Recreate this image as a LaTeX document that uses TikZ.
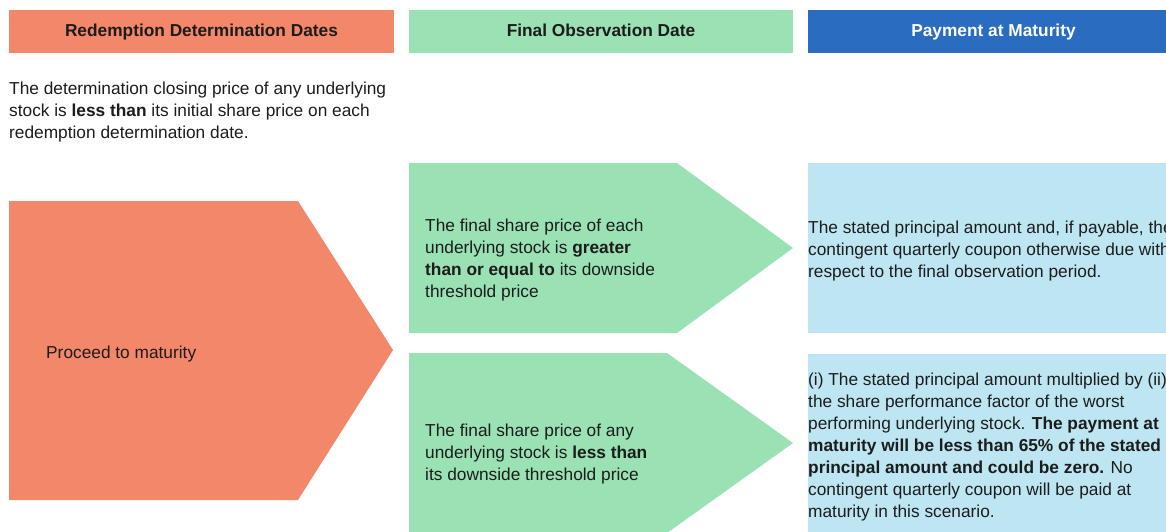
\documentclass[tikz,border=0pt]{standalone}
\usepackage{fontspec}
\setmainfont{Liberation Sans}
\definecolor{rdOrange}{HTML}{F3876A}
\definecolor{foGreen}{HTML}{9AE1B4}
\definecolor{pmBlue}{HTML}{2A6CC0}
\definecolor{pmLight}{HTML}{BDE6F2}
\definecolor{txt}{HTML}{1C1C1C}
\begin{document}
\begin{tikzpicture}[x=1pt,y=-1pt,
  head/.style={minimum height=43pt,inner sep=0pt,text height=12.5pt,text depth=1.6pt,text=txt,font=\fontsize{17.3}{22}\selectfont\bfseries},
  body/.style={anchor=base west,align=left,inner sep=0pt,text=txt,font=\fontsize{17.3}{22}\selectfont}]
\useasboundingbox (0,0) rectangle (1166,531);
\clip (0,0) rectangle (1166,531);
% column headers
\node[head,minimum width=385pt,fill=rdOrange] (hRedeem) at (201.5,31.5) {Redemption Determination Dates};
\node[head,minimum width=384pt,fill=foGreen] (hFinal) at (601,31.5) {Final Observation Date};
\node[head,minimum width=371pt,fill=pmBlue,text=white] (hPay) at (993.5,31.5) {Payment at Maturity};
% base anchor sits on the last line
\node[body] (intro) at (9,138) {The determination closing price of any underlying\\stock is \textbf{less than} its initial share price on each\\redemption determination date.};
% chevrons
\fill[rdOrange] (9,201) -- (298,201) -- (393,350) -- (298,500) -- (9,500) -- cycle;
\fill[foGreen] (409,163) -- (677,163) -- (793,248) -- (677,333) -- (409,333) -- cycle;
\fill[foGreen] (409,353) -- (667,353) -- (793,443) -- (667,533) -- (409,533) -- cycle;
% payment boxes
\fill[pmLight] (808,163) rectangle (1179,333);
\fill[pmLight] (808,354) rectangle (1179,535);
\node[body] (proceed) at (46,358) {Proceed to maturity};
\node[body] (aboveThr) at (425,297) {The final share price of each\\underlying stock is \textbf{greater}\\\textbf{than or equal to} its downside\\threshold price};
\node[body] (belowThr) at (425,480) {The final share price of any\\underlying stock is \textbf{less than}\\its downside threshold price};
\node[body] (payPar) at (808,277) {The stated principal amount and, if payable, the\\contingent quarterly coupon otherwise due with\\respect to the final observation period.};
\node[body] (payLoss) at (808,517) {(i) The stated principal amount multiplied by (ii)\\the share performance factor of the worst\\performing underlying stock. \textbf{The payment at}\\\textbf{maturity will be less than 65\% of the stated}\\\textbf{principal amount and could be zero.} No\\contingent quarterly coupon will be paid at\\maturity in this scenario.};
\end{tikzpicture}
\end{document}
